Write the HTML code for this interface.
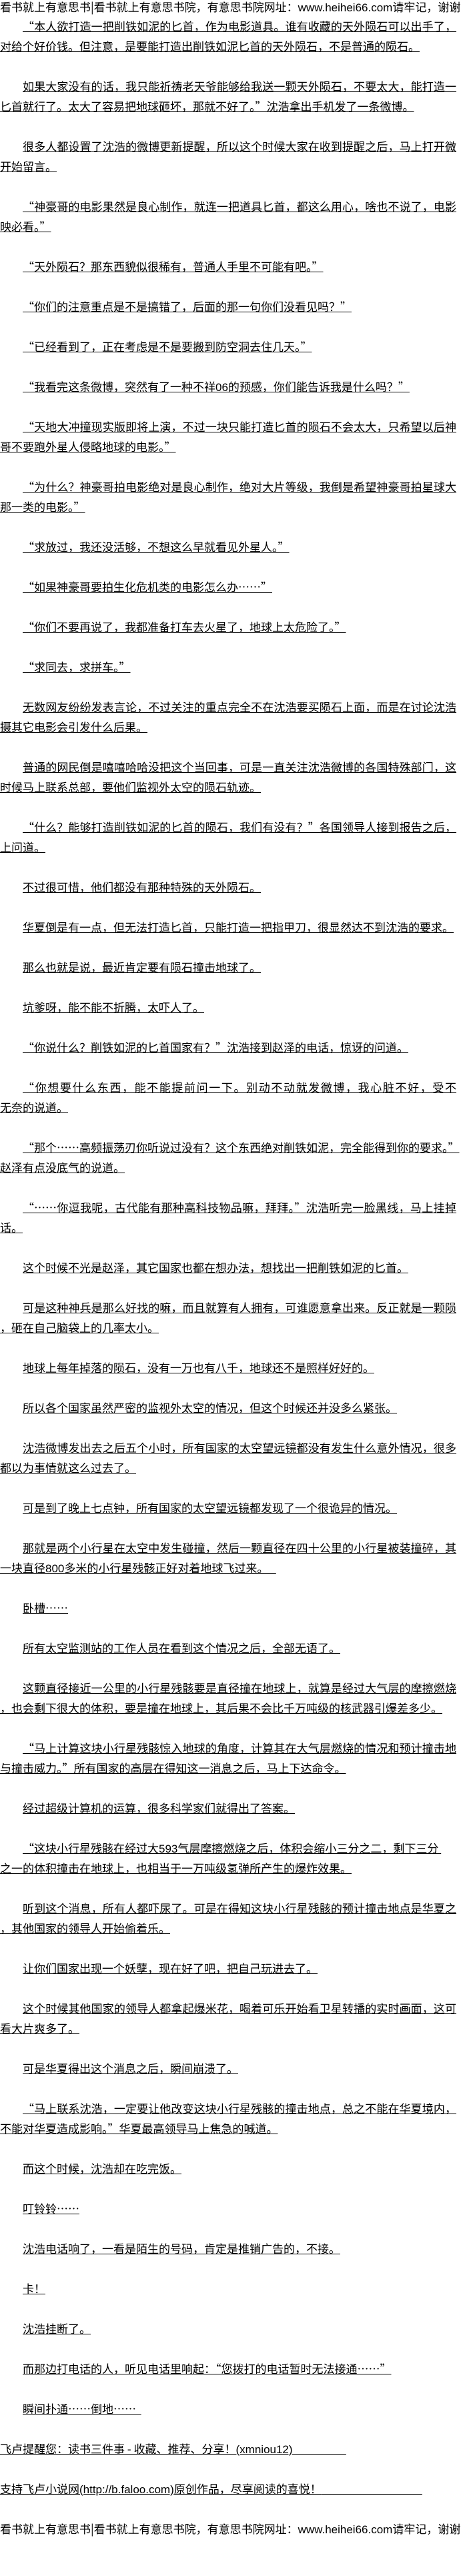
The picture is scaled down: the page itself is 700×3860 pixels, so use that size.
<!DOCTYPE html>
<html><head><meta charset="utf-8">
<style>
html,body{margin:0;padding:0;background:#fff;}
body{width:700px;height:3860px;overflow:hidden;position:relative;color:#000;
font-family:"Noto Sans CJK SC","Liberation Sans",sans-serif;font-size:17px;}
.lt{font-family:"Liberation Sans",sans-serif;}
.hd{height:24px;line-height:20px;white-space:nowrap;overflow:hidden;width:700px;font-size:17px;}
.w{width:684px;}
.l{height:30px;line-height:30px;white-space:nowrap;text-decoration:underline;}
.i{padding-left:34px;}
.j{white-space:normal;text-align:justify;text-align-last:justify;overflow:hidden;}
.b{height:30px;}
.nu{text-decoration:none;}
</style></head><body>
<div class="hd">看书就上有意思书|看书就上有意思书院，有意思书院网址：<span class="lt">www.heihei66.com</span>请牢记，谢谢</div>
<div class="w">
<div class="l i j">“本人欲打造一把削铁如泥的匕首，作为电影道具。谁有收藏的天外陨石可以出手了，绝</div>
<div class="l">对给个好价钱。但注意，是要能打造出削铁如泥匕首的天外陨石，不是普通的陨石。</div>
<div class="b"></div>
<div class="l i j">如果大家没有的话，我只能祈祷老天爷能够给我送一颗天外陨石，不要太大，能打造一把</div>
<div class="l">匕首就行了。太大了容易把地球砸坏，那就不好了。”沈浩拿出手机发了一条微博。</div>
<div class="b"></div>
<div class="l i j">很多人都设置了沈浩的微博更新提醒，所以这个时候大家在收到提醒之后，马上打开微博</div>
<div class="l">开始留言。</div>
<div class="b"></div>
<div class="l i j">“神豪哥的电影果然是良心制作，就连一把道具匕首，都这么用心，啥也不说了，电影上</div>
<div class="l">映必看。”</div>
<div class="b"></div>
<div class="l i">“天外陨石？那东西貌似很稀有，普通人手里不可能有吧。”</div>
<div class="b"></div>
<div class="l i">“你们的注意重点是不是搞错了，后面的那一句你们没看见吗？”</div>
<div class="b"></div>
<div class="l i">“已经看到了，正在考虑是不是要搬到防空洞去住几天。”</div>
<div class="b"></div>
<div class="l i">“我看完这条微博，突然有了一种不祥<span class="lt">06</span>的预感，你们能告诉我是什么吗？”</div>
<div class="b"></div>
<div class="l i j">“天地大冲撞现实版即将上演，不过一块只能打造匕首的陨石不会太大，只希望以后神豪</div>
<div class="l">哥不要跑外星人侵略地球的电影。”</div>
<div class="b"></div>
<div class="l i j">“为什么？神豪哥拍电影绝对是良心制作，绝对大片等级，我倒是希望神豪哥拍星球大战</div>
<div class="l">那一类的电影。”</div>
<div class="b"></div>
<div class="l i">“求放过，我还没活够，不想这么早就看见外星人。”</div>
<div class="b"></div>
<div class="l i">“如果神豪哥要拍生化危机类的电影怎么办……”</div>
<div class="b"></div>
<div class="l i">“你们不要再说了，我都准备打车去火星了，地球上太危险了。”</div>
<div class="b"></div>
<div class="l i">“求同去，求拼车。”</div>
<div class="b"></div>
<div class="l i j">无数网友纷纷发表言论，不过关注的重点完全不在沈浩要买陨石上面，而是在讨论沈浩拍</div>
<div class="l">摄其它电影会引发什么后果。</div>
<div class="b"></div>
<div class="l i j">普通的网民倒是嘻嘻哈哈没把这个当回事，可是一直关注沈浩微博的各国特殊部门，这个</div>
<div class="l">时候马上联系总部，要他们监视外太空的陨石轨迹。</div>
<div class="b"></div>
<div class="l i j">“什么？能够打造削铁如泥的匕首的陨石，我们有没有？”各国领导人接到报告之后，马</div>
<div class="l">上问道。</div>
<div class="b"></div>
<div class="l i">不过很可惜，他们都没有那种特殊的天外陨石。</div>
<div class="b"></div>
<div class="l i">华夏倒是有一点，但无法打造匕首，只能打造一把指甲刀，很显然达不到沈浩的要求。</div>
<div class="b"></div>
<div class="l i">那么也就是说，最近肯定要有陨石撞击地球了。</div>
<div class="b"></div>
<div class="l i">坑爹呀，能不能不折腾，太吓人了。</div>
<div class="b"></div>
<div class="l i">“你说什么？削铁如泥的匕首国家有？”沈浩接到赵泽的电话，惊讶的问道。</div>
<div class="b"></div>
<div class="l i j">“你想要什么东西，能不能提前问一下。别动不动就发微博，我心脏不好，受不了。”赵泽</div>
<div class="l">无奈的说道。</div>
<div class="b"></div>
<div class="l i">“那个……高频振荡刃你听说过没有？这个东西绝对削铁如泥，完全能得到你的要求。”</div>
<div class="l">赵泽有点没底气的说道。</div>
<div class="b"></div>
<div class="l i j">“……你逗我呢，古代能有那种高科技物品嘛，拜拜。”沈浩听完一脸黑线，马上挂掉电</div>
<div class="l">话。</div>
<div class="b"></div>
<div class="l i">这个时候不光是赵泽，其它国家也都在想办法，想找出一把削铁如泥的匕首。</div>
<div class="b"></div>
<div class="l i j">可是这种神兵是那么好找的嘛，而且就算有人拥有，可谁愿意拿出来。反正就是一颗陨石</div>
<div class="l">，砸在自己脑袋上的几率太小。</div>
<div class="b"></div>
<div class="l i">地球上每年掉落的陨石，没有一万也有八千，地球还不是照样好好的。</div>
<div class="b"></div>
<div class="l i">所以各个国家虽然严密的监视外太空的情况，但这个时候还并没多么紧张。</div>
<div class="b"></div>
<div class="l i j">沈浩微博发出去之后五个小时，所有国家的太空望远镜都没有发生什么意外情况，很多人</div>
<div class="l">都以为事情就这么过去了。</div>
<div class="b"></div>
<div class="l i">可是到了晚上七点钟，所有国家的太空望远镜都发现了一个很诡异的情况。</div>
<div class="b"></div>
<div class="l i j">那就是两个小行星在太空中发生碰撞，然后一颗直径在四十公里的小行星被装撞碎，其中</div>
<div class="l">一块直径<span class="lt">800</span>多米的小行星残骸正好对着地球飞过来。&nbsp;&nbsp;&nbsp;</div>
<div class="b"></div>
<div class="l i">卧槽……</div>
<div class="b"></div>
<div class="l i">所有太空监测站的工作人员在看到这个情况之后，全部无语了。</div>
<div class="b"></div>
<div class="l i j">这颗直径接近一公里的小行星残骸要是直径撞在地球上，就算是经过大气层的摩擦燃烧</div>
<div class="l">，也会剩下很大的体积，要是撞在地球上，其后果不会比千万吨级的核武器引爆差多少。</div>
<div class="b"></div>
<div class="l i j">“马上计算这块小行星残骸惊入地球的角度，计算其在大气层燃烧的情况和预计撞击地点</div>
<div class="l">与撞击威力。”所有国家的高层在得知这一消息之后，马上下达命令。</div>
<div class="b"></div>
<div class="l i">经过超级计算机的运算，很多科学家们就得出了答案。</div>
<div class="b"></div>
<div class="l i">“这块小行星残骸在经过大<span class="lt">593</span>气层摩擦燃烧之后，体积会缩小三分之二，剩下三分&nbsp;</div>
<div class="l">之一的体积撞击在地球上，也相当于一万吨级氢弹所产生的爆炸效果。</div>
<div class="b"></div>
<div class="l i j">听到这个消息，所有人都吓尿了。可是在得知这块小行星残骸的预计撞击地点是华夏之后</div>
<div class="l">，其他国家的领导人开始偷着乐。</div>
<div class="b"></div>
<div class="l i">让你们国家出现一个妖孽，现在好了吧，把自己玩进去了。</div>
<div class="b"></div>
<div class="l i j">这个时候其他国家的领导人都拿起爆米花，喝着可乐开始看卫星转播的实时画面，这可比</div>
<div class="l">看大片爽多了。</div>
<div class="b"></div>
<div class="l i">可是华夏得出这个消息之后，瞬间崩溃了。</div>
<div class="b"></div>
<div class="l i j">“马上联系沈浩，一定要让他改变这块小行星残骸的撞击地点，总之不能在华夏境内，也</div>
<div class="l">不能对华夏造成影响。”华夏最高领导马上焦急的喊道。</div>
<div class="b"></div>
<div class="l i">而这个时候，沈浩却在吃完饭。</div>
<div class="b"></div>
<div class="l i">叮铃铃……</div>
<div class="b"></div>
<div class="l i">沈浩电话响了，一看是陌生的号码，肯定是推销广告的，不接。</div>
<div class="b"></div>
<div class="l i">卡！</div>
<div class="b"></div>
<div class="l i">沈浩挂断了。</div>
<div class="b"></div>
<div class="l i">而那边打电话的人，听见电话里响起：“您拨打的电话暂时无法接通……”</div>
<div class="b"></div>
<div class="l i">瞬间扑通……倒地……&nbsp;&nbsp;</div>
<div class="b"></div>
<div class="l">飞卢提醒您：读书三件事 - 收藏、推荐、分享！<span class="lt">(xmniou12)&nbsp;&nbsp;&nbsp;&nbsp;&nbsp;&nbsp;&nbsp;&nbsp;&nbsp;&nbsp;&nbsp;&nbsp;&nbsp;&nbsp;&nbsp;&nbsp;&nbsp;</span></div>
<div class="b"></div>
<div class="l">支持飞卢小说网<span class="lt">(http://b.faloo.com)</span>原创作品，尽享阅读的喜悦！<span class="lt">&nbsp;&nbsp;&nbsp;&nbsp;&nbsp;&nbsp;&nbsp;&nbsp;&nbsp;&nbsp;&nbsp;&nbsp;&nbsp;&nbsp;&nbsp;&nbsp;&nbsp;&nbsp;&nbsp;&nbsp;&nbsp;&nbsp;&nbsp;&nbsp;&nbsp;&nbsp;&nbsp;&nbsp;&nbsp;&nbsp;&nbsp;&nbsp;</span></div>
<div class="b"></div>
<div class="l nu" style="width:700px;overflow:hidden;">看书就上有意思书|看书就上有意思书院，有意思书院网址：<span class="lt">www.heihei66.com</span>请牢记，谢谢</div>
</div>
</body></html>
